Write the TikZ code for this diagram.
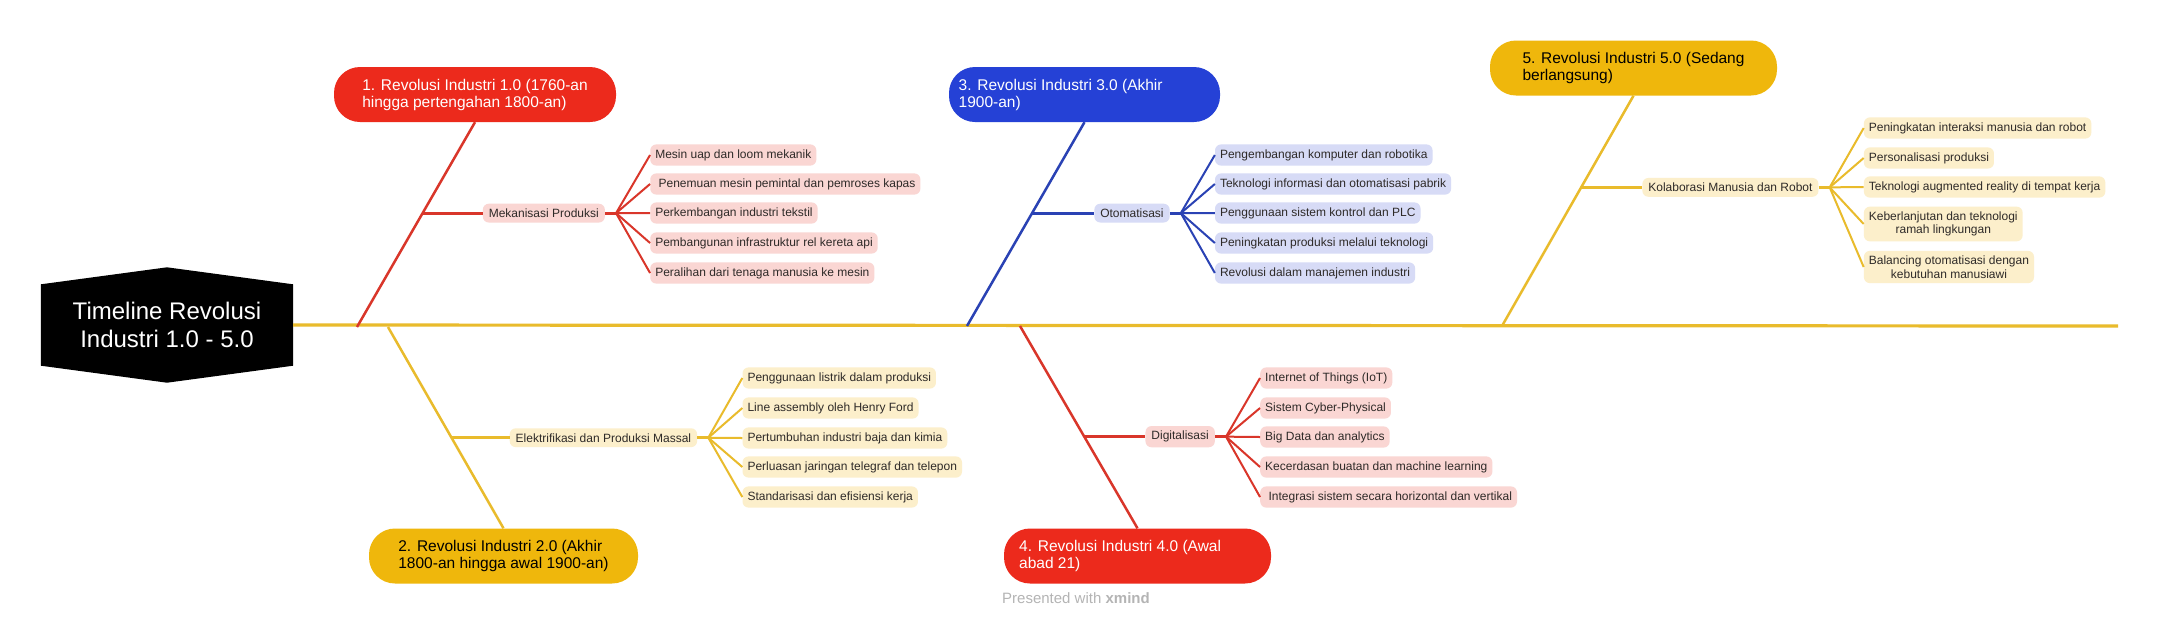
\documentclass[tikz,border=0pt]{standalone}
\usepackage{fontspec}
\setmainfont{Liberation Sans}
\usetikzlibrary{calc,backgrounds}
\definecolor{cred}{HTML}{EC2A1C}
\definecolor{cblue}{HTML}{2541D6}
\definecolor{cyel}{HTML}{EFB70C}
\definecolor{lred}{HTML}{D9362A}
\definecolor{lblue}{HTML}{2A42B4}
\definecolor{lyel}{HTML}{E9BB2C}
\definecolor{fred}{HTML}{FAD6D3}
\definecolor{fblue}{HTML}{D7DBF6}
\definecolor{fyel}{HTML}{FCEFCB}
\definecolor{txt}{HTML}{2E2A28}
\definecolor{pgray}{HTML}{B4B4B4}
\tikzset{
  revnode/.style={rounded corners=26pt, minimum width=#1, minimum height=55pt, inner sep=0pt, align=left, font=\fontsize{15.5}{17}\selectfont},
  itembox/.style={anchor=west, rounded corners=6pt, inner xsep=5pt, inner ysep=5pt, align=center, font=\fontsize{12}{13.5}\selectfont, text=txt},
  subbox/.style={anchor=west, rounded corners=6pt, inner xsep=6pt, inner ysep=5pt, font=\fontsize{12}{13.5}\selectfont, text=txt},
  mainline/.style={line width=3.2pt, lyel},
  conn/.style={line width=2.5pt},
  branch/.style={line width=3pt},
  fanline/.style={line width=2pt},
}
\begin{document}
\begin{tikzpicture}[x=1pt,y=-1pt]
\useasboundingbox (0,0) rectangle (2160,625);

% central topic
\node[font=\fontsize{24}{28}\selectfont, text=white, align=center, minimum width=252pt, minimum height=81pt, inner sep=0pt] (c) at (167,325) {Timeline Revolusi\\Industri 1.0 - 5.0};
\begin{scope}[on background layer]
\fill[white] (0,0) rectangle (2160,625);
\fill[black] (c.north west) -- ([yshift=17pt]c.north) -- (c.north east) -- (c.south east) -- ([yshift=-17pt]c.south) -- (c.south west) -- cycle;
\end{scope}

% main line
\coordinate (mend) at (2118,326);
\draw[mainline] (c.east) -- (mend);
\coordinate (m1) at (357,327);
\coordinate (m2) at (388,327);
\coordinate (m3) at (967,326);
\coordinate (m4) at (1020,326);
\coordinate (m5) at (1502,326);

% revolution nodes
\node[revnode=282pt, fill=cred, text=white] (n1) at (475,94.5) {1. Revolusi Industri 1.0 (1760-an\\hingga pertengahan 1800-an)};
\node[revnode=269pt, fill=cyel, text=black] (n2) at (503.5,556) {2. Revolusi Industri 2.0 (Akhir\\1800-an hingga awal 1900-an)};
\node[revnode=271pt, fill=cblue, text=white] (n3) at (1084.5,94.5) {3. Revolusi Industri 3.0 (Akhir\\1900-an)\hphantom{ Revolusi Industri 3.0 (Akhir}};
\node[revnode=267pt, fill=cred, text=white] (n4) at (1137.5,556) {4. Revolusi Industri 4.0 (Awal\\abad 21)\hphantom{ Revolusi Industri 4.0 (Aw}};
\node[revnode=287pt, fill=cyel, text=black] (n5) at (1633.5,68) {5. Revolusi Industri 5.0 (Sedang\\berlangsung)};

% timeline connectors
\draw[conn, lred] (m1) -- coordinate[pos=0.556] (b1) (n1.south);
\draw[conn, lyel] (m2) -- coordinate[pos=0.55] (b2) (n2.north);
\draw[conn, lblue] (m3) -- coordinate[pos=0.554] (b3) (n3.south);
\draw[conn, lred] (m4) -- coordinate[pos=0.547] (b4) (n4.north);
\draw[conn, lyel] (m5) -- coordinate[pos=0.602] (b5) (n5.south);

% group 1
\node[subbox, fill=fred] (s1) at ([xshift=60pt]b1) {Mekanisasi Produksi};
\draw[branch, lred] (b1) -- (s1.west);
\coordinate (f1) at ([xshift=11pt]s1.east);
\coordinate (g1) at ([xshift=34pt]f1);
\draw[branch, lred] (s1.east) -- (f1);
\foreach \yy/\tx [count=\k] in {155/{Mesin uap dan loom mekanik}, 184/{\ Penemuan mesin pemintal dan pemroses kapas}, 213/{Perkembangan industri tekstil}, 243/{Pembangunan infrastruktur rel kereta api}, 273/{Peralihan dari tenaga manusia ke mesin}}{
  \node[itembox, fill=fred] (i1\k) at (g1 |- 0,\yy) {\tx};
  \draw[fanline, lred] (f1) -- (i1\k.west);
}

% group 2
\node[subbox, fill=fyel] (s2) at ([xshift=58pt]b2) {Elektrifikasi dan Produksi Massal};
\draw[branch, lyel] (b2) -- (s2.west);
\coordinate (f2) at ([xshift=11pt]s2.east);
\coordinate (g2) at ([xshift=34pt]f2);
\draw[branch, lyel] (s2.east) -- (f2);
\foreach \yy/\tx [count=\k] in {378/{Penggunaan listrik dalam produksi}, 408/{Line assembly oleh Henry Ford}, 438/{Pertumbuhan industri baja dan kimia}, 467/{Perluasan jaringan telegraf dan telepon}, 497/{Standarisasi dan efisiensi kerja}}{
  \node[itembox, fill=fyel] (i2\k) at (g2 |- 0,\yy) {\tx};
  \draw[fanline, lyel] (f2) -- (i2\k.west);
}

% group 3
\node[subbox, fill=fblue] (s3) at ([xshift=62pt]b3) {Otomatisasi};
\draw[branch, lblue] (b3) -- (s3.west);
\coordinate (f3) at ([xshift=11pt]s3.east);
\coordinate (g3) at ([xshift=34pt]f3);
\draw[branch, lblue] (s3.east) -- (f3);
\foreach \yy/\tx [count=\k] in {155/{Pengembangan komputer dan robotika}, 184/{Teknologi informasi dan otomatisasi pabrik}, 213/{Penggunaan sistem kontrol dan PLC}, 243/{Peningkatan produksi melalui teknologi}, 273/{Revolusi dalam manajemen industri}}{
  \node[itembox, fill=fblue] (i3\k) at (g3 |- 0,\yy) {\tx};
  \draw[fanline, lblue] (f3) -- (i3\k.west);
}

% group 4
\node[subbox, fill=fred] (s4) at ([xshift=61pt]b4) {Digitalisasi};
\draw[branch, lred] (b4) -- (s4.west);
\coordinate (f4) at ([xshift=11pt]s4.east);
\coordinate (g4) at ([xshift=34pt]f4);
\draw[branch, lred] (s4.east) -- (f4);
\foreach \yy/\tx [count=\k] in {378/{Internet of Things (IoT)}, 408/{Sistem Cyber-Physical}, 437/{Big Data dan analytics}, 467/{Kecerdasan buatan dan machine learning}, 497/{\ Integrasi sistem secara horizontal dan vertikal}}{
  \node[itembox, fill=fred] (i4\k) at (g4 |- 0,\yy) {\tx};
  \draw[fanline, lred] (f4) -- (i4\k.west);
}

% group 5
\node[subbox, fill=fyel] (s5) at ([xshift=61pt]b5) {Kolaborasi Manusia dan Robot};
\draw[branch, lyel] (b5) -- (s5.west);
\coordinate (f5) at ([xshift=11pt]s5.east);
\coordinate (g5) at ([xshift=34pt]f5);
\draw[branch, lyel] (s5.east) -- (f5);
\foreach \yy/\tx [count=\k] in {128/{Peningkatan interaksi manusia dan robot}, 158/{Personalisasi produksi}, 187/{Teknologi augmented reality di tempat kerja}, 224/{Keberlanjutan dan teknologi\\ramah lingkungan}, 267/{Balancing otomatisasi dengan\\kebutuhan manusiawi}}{
  \node[itembox, fill=fyel] (i5\k) at (g5 |- 0,\yy) {\tx};
  \draw[fanline, lyel] (f5) -- (i5\k.west);
}

% footer
\node[anchor=west, text=pgray, font=\fontsize{15}{15}\selectfont, inner sep=0pt] (pw) at (1002,598) {Presented with \textbf{xmind}};
\end{tikzpicture}
\end{document}
